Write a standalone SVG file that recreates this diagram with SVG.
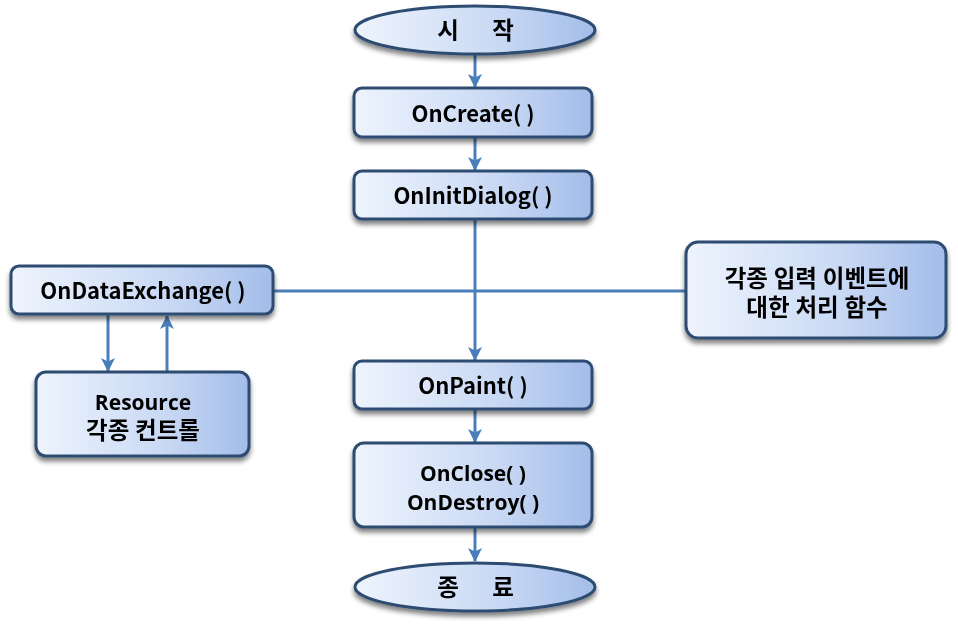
<svg xmlns="http://www.w3.org/2000/svg" width="958" height="629" viewBox="0 0 958 629">
<defs>
<linearGradient id="g" x1="0" y1="0" x2="1" y2="0">
<stop offset="0" stop-color="#eef4fd"/>
<stop offset="0.6" stop-color="#c9d9f4"/>
<stop offset="1" stop-color="#a3bde9"/>
</linearGradient>
<filter id="sh" x="-10%" y="-10%" width="120%" height="140%">
<feGaussianBlur in="SourceAlpha" stdDeviation="2.5"/>
<feOffset dx="0" dy="4"/>
<feComponentTransfer><feFuncA type="linear" slope="0.5"/></feComponentTransfer>
<feMerge><feMergeNode/><feMergeNode in="SourceGraphic"/></feMerge>
</filter>
<marker id="ah" viewBox="0 0 14 14" refX="13" refY="7" markerWidth="14" markerHeight="14" markerUnits="userSpaceOnUse" orient="auto">
<path d="M0,0 L14,7 L0,14 L3.5,7 Z" fill="#4a7ebb"/>
</marker>
</defs>
<style>
.box{fill:url(#g);stroke:#2e4c72;stroke-width:3}
.t{font-family:"Noto Sans CJK KR","Noto Sans",sans-serif;font-weight:bold;font-size:22px;fill:#000;text-anchor:middle}
.o{font-family:"Open Sans","Noto Sans CJK KR",sans-serif;font-size:21px}
.r{font-family:Roboto,"Noto Sans CJK KR",sans-serif}
.k{font-size:23.5px}
.c{stroke:#4a7ebb;stroke-width:3;fill:none}
</style>
<g id="connectors">
<line class="c" x1="475" y1="55" x2="475" y2="87" marker-end="url(#ah)"/>
<line class="c" x1="475" y1="138" x2="475" y2="170" marker-end="url(#ah)"/>
<line class="c" x1="475" y1="220" x2="475" y2="360" marker-end="url(#ah)"/>
<line class="c" x1="273" y1="291" x2="686" y2="291"/>
<line class="c" x1="108" y1="315" x2="108" y2="371" marker-end="url(#ah)"/>
<line class="c" x1="167" y1="372" x2="167" y2="316" marker-end="url(#ah)"/>
<line class="c" x1="475" y1="410" x2="475" y2="442" marker-end="url(#ah)"/>
<line class="c" x1="475" y1="528" x2="475" y2="561" marker-end="url(#ah)"/>
</g>
<g id="start" filter="url(#sh)">
<ellipse class="box" cx="475" cy="30" rx="120" ry="24"/>
<text class="t k" x="448" y="39">시</text>
<text class="t k" x="503" y="39">작</text>
</g>
<g id="oncreate" filter="url(#sh)">
<rect class="box" x="354" y="88" width="238" height="49" rx="8"/>
<text class="t" x="473" y="122">OnCreate( )</text>
</g>
<g id="oninitdialog" filter="url(#sh)">
<rect class="box" x="354" y="171" width="238" height="48" rx="8"/>
<text class="t" x="473" y="204">OnInitDialog( )</text>
</g>
<g id="ondataexchange" filter="url(#sh)">
<rect class="box" x="11" y="266" width="262" height="48" rx="8"/>
<text class="t" x="143" y="299">OnDataExchange( )</text>
</g>
<g id="resource" filter="url(#sh)">
<rect class="box" x="36" y="372" width="213" height="84" rx="10"/>
<text class="t o" x="143" y="409.5">Resource</text>
<text class="t r k" x="143" y="439">각종 컨트롤</text>
</g>
<g id="events" filter="url(#sh)">
<rect class="box" x="686" y="242" width="260" height="96" rx="12"/>
<text class="t r k" x="817" y="287">각종 입력 이벤트에</text>
<text class="t r k" x="817" y="316">대한 처리 함수</text>
</g>
<g id="onpaint" filter="url(#sh)">
<rect class="box" x="354" y="361" width="238" height="48" rx="8"/>
<text class="t" x="473" y="394">OnPaint( )</text>
</g>
<g id="onclose" filter="url(#sh)">
<rect class="box" x="354" y="443" width="238" height="84" rx="10"/>
<text class="t o" x="473" y="480.5">OnClose( )</text>
<text class="t o" x="473" y="509.5">OnDestroy( )</text>
</g>
<g id="end" filter="url(#sh)">
<ellipse class="box" cx="475" cy="587" rx="120" ry="24"/>
<text class="t k" x="448" y="596">종</text>
<text class="t k" x="503" y="596">료</text>
</g>
</svg>
